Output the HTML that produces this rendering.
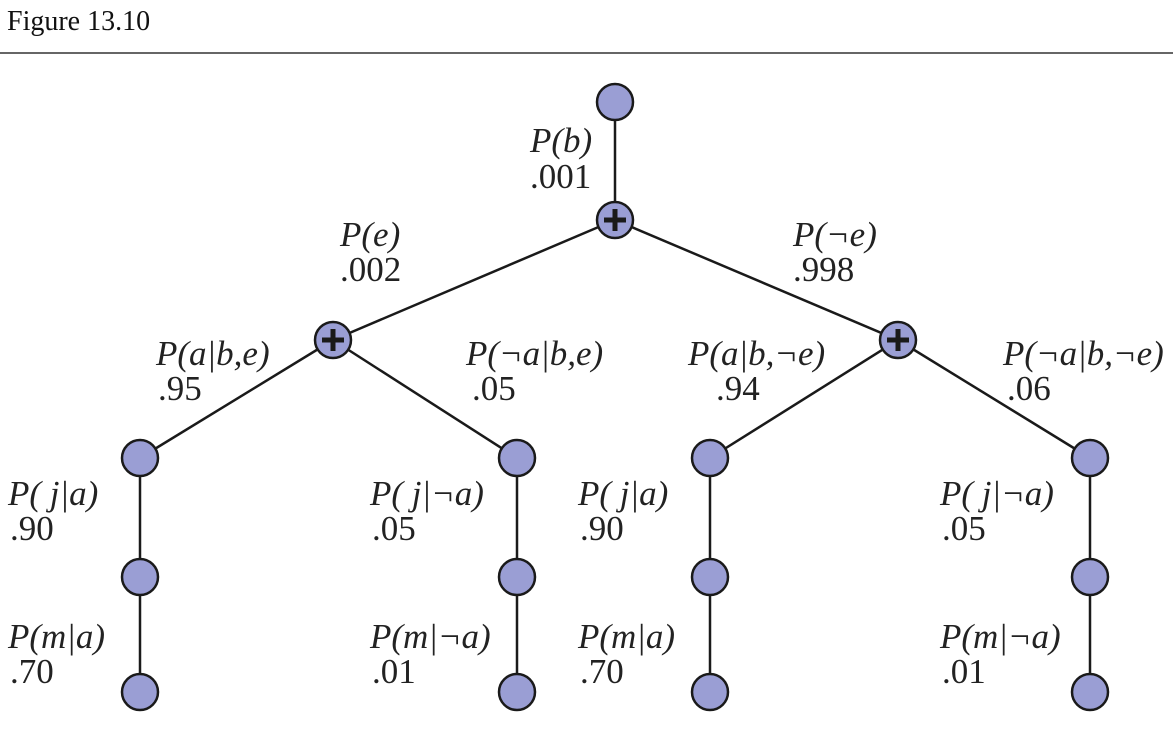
<!DOCTYPE html>
<html><head><style>
body{margin:0;background:#fff;width:1173px;height:739px;overflow:hidden}
svg text{font-family:"Liberation Serif",serif;font-size:35px;fill:#222}
.i{font-style:italic}
</style></head><body>
<svg width="1173" height="739" xmlns="http://www.w3.org/2000/svg">
<text x="7" y="30" style="font-size:28px;fill:#111">Figure 13.10</text>
<rect x="0" y="52" width="1173" height="2" fill="#666"/>
<g stroke="#1a1a1a" stroke-width="2.5" fill="none">
<line x1="615" y1="102" x2="615" y2="220"/>
<line x1="615" y1="220" x2="333" y2="340"/>
<line x1="615" y1="220" x2="898" y2="340"/>
<line x1="333" y1="340" x2="140" y2="458"/>
<line x1="333" y1="340" x2="517" y2="458"/>
<line x1="898" y1="340" x2="710" y2="458"/>
<line x1="898" y1="340" x2="1090" y2="458"/>
<line x1="140" y1="458" x2="140" y2="692"/>
<line x1="517" y1="458" x2="517" y2="692"/>
<line x1="710" y1="458" x2="710" y2="692"/>
<line x1="1090" y1="458" x2="1090" y2="692"/>
</g>
<g fill="#9a9ed4" stroke="#1a1a1a" stroke-width="2.5">
<circle cx="615" cy="102" r="18"/>
<circle cx="615" cy="220" r="18"/>
<circle cx="333" cy="340" r="18"/>
<circle cx="898" cy="340" r="18"/>
<circle cx="140" cy="458" r="18"/><circle cx="140" cy="577" r="18"/><circle cx="140" cy="692" r="18"/>
<circle cx="517" cy="458" r="18"/><circle cx="517" cy="577" r="18"/><circle cx="517" cy="692" r="18"/>
<circle cx="710" cy="458" r="18"/><circle cx="710" cy="577" r="18"/><circle cx="710" cy="692" r="18"/>
<circle cx="1090" cy="458" r="18"/><circle cx="1090" cy="577" r="18"/><circle cx="1090" cy="692" r="18"/>
</g>
<g stroke="#1a1a1a" stroke-width="5">
<line x1="604" y1="220" x2="626" y2="220"/><line x1="615" y1="209" x2="615" y2="231"/>
<line x1="322" y1="340" x2="344" y2="340"/><line x1="333" y1="329" x2="333" y2="351"/>
<line x1="887" y1="340" x2="909" y2="340"/><line x1="898" y1="329" x2="898" y2="351"/>
</g>
<text x="530" y="152" class="i">P(b)</text><text x="530" y="188">.001</text>
<text x="340" y="246" class="i">P(e)</text><text x="340" y="281">.002</text>
<text x="793" y="246" class="i">P(¬e)</text><text x="793" y="281">.998</text>
<text x="156" y="365" class="i">P(a|b,e)</text><text x="158" y="400">.95</text>
<text x="466" y="365" class="i">P(¬a|b,e)</text><text x="472" y="400">.05</text>
<text x="688" y="365" class="i">P(a|b,¬e)</text><text x="716" y="400">.94</text>
<text x="1003" y="365" class="i">P(¬a|b,¬e)</text><text x="1007" y="400">.06</text>
<text x="8" y="505" class="i">P( j|a)</text><text x="10" y="540">.90</text>
<text x="370" y="505" class="i">P( j|¬a)</text><text x="372" y="540">.05</text>
<text x="578" y="505" class="i">P( j|a)</text><text x="580" y="540">.90</text>
<text x="940" y="505" class="i">P( j|¬a)</text><text x="942" y="540">.05</text>
<text x="8" y="648" class="i">P(m|a)</text><text x="10" y="683">.70</text>
<text x="370" y="648" class="i">P(m|¬a)</text><text x="372" y="683">.01</text>
<text x="578" y="648" class="i">P(m|a)</text><text x="580" y="683">.70</text>
<text x="940" y="648" class="i">P(m|¬a)</text><text x="942" y="683">.01</text>
</svg>
</body></html>
